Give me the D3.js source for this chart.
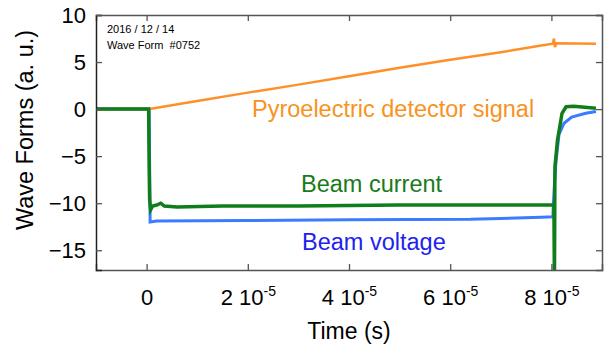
<!DOCTYPE html>
<html>
<head>
<meta charset="utf-8">
<script src="https://cdn.jsdelivr.net/npm/d3@7"></script>
<style>
  body { margin: 0; background: #fff; }
  text { font-family: Arial, "Liberation Sans", sans-serif; }
</style>
</head>
<body>
<script>
// time values in seconds, signals in arbitrary units
var voltageTime = [-1.0e-5, 0.05e-5, 0.07e-5, 0.2e-5, 2e-5, 4e-5, 6.4e-5, 7.8e-5, 8.03e-5, 8.04e-5, 8.06e-5, 8.09e-5, 8.15e-5, 8.25e-5, 8.4e-5, 8.68e-5, 8.88e-5];
var voltageVal  = [0.0, 0.0, -12.0, -11.9, -11.85, -11.75, -11.7, -11.5, -11.45, -10.0, -8.0, -5.6, -2.7, -1.5, -0.85, -0.45, -0.25];

var currentTime = [-1.0e-5, 0.04e-5, 0.05e-5, 0.06e-5, 0.08e-5, 0.12e-5, 0.2e-5, 0.28e-5, 0.35e-5, 0.6e-5, 1.5e-5, 3e-5, 5e-5, 7e-5, 8.03e-5, 8.05e-5, 8.06e-5, 8.07e-5, 8.12e-5, 8.21e-5, 8.29e-5, 8.44e-5, 8.88e-5];
var currentVal  = [0.0, 0.0, -6.0, -9.6, -10.7, -10.3, -10.2, -10.0, -10.3, -10.4, -10.3, -10.3, -10.2, -10.2, -10.2, -10.3, -19.0, -6.1, -3.3, -0.45, 0.25, 0.3, 0.1];

var pyroTime = [-1.0e-5, 0.06e-5, 1e-5, 2e-5, 3e-5, 4e-5, 5e-5, 6e-5, 7e-5, 7.8e-5, 8.03e-5, 8.05e-5, 8.07e-5, 8.1e-5, 8.88e-5];
var pyroVal  = [0.0, 0.0, 0.85, 1.75, 2.6, 3.5, 4.4, 5.25, 6.05, 6.75, 6.95, 7.5, 6.6, 7.0, 6.95];

var xTicks = [0, 2e-5, 4e-5, 6e-5, 8e-5];
var yTicks = [-15, -10, -5, 0, 5, 10];

var width = 605, height = 347;
var margin = {left: 96, right: 3, top: 15, bottom: 77};

var svg = d3.select("body").append("svg")
    .attr("width", width)
    .attr("height", height);

var x = d3.scaleLinear().domain([-1e-5, 9e-5]).range([margin.left, width - margin.right]);
var y = d3.scaleLinear().domain([-17.1, 10]).range([height - margin.bottom, margin.top]);

function toPoints(ts, vs) {
    return ts.map(function (t, i) { return [t, vs[i]]; });
}

svg.append("clipPath").attr("id", "plot")
  .append("rect")
    .attr("x", x.range()[0]).attr("y", y.range()[1])
    .attr("width", x.range()[1] - x.range()[0])
    .attr("height", y.range()[0] - y.range()[1]);

var line = d3.line()
    .x(function (d) { return x(d[0]); })
    .y(function (d) { return y(d[1]); });

var traces = svg.append("g").attr("clip-path", "url(#plot)");

// blue under, green on top
traces.append("path")
    .datum(toPoints(voltageTime, voltageVal))
    .attr("d", line).attr("fill", "none")
    .attr("stroke", "#3a7bff").attr("stroke-width", 3);

traces.append("path")
    .datum(toPoints(pyroTime, pyroVal))
    .attr("d", line).attr("fill", "none")
    .attr("stroke", "#ff9028").attr("stroke-width", 2.5);

traces.append("path")
    .datum(toPoints(currentTime, currentVal))
    .attr("d", line).attr("fill", "none")
    .attr("stroke", "#0f7d1a").attr("stroke-width", 3.5);

// axes, ticks pointing inward on all four sides
var axisColor = "#555";

function xFormat(d) {
    return d === 0 ? "0" : String(Math.round(d / 1e-5));
}

var bottom = svg.append("g")
    .attr("transform", "translate(0," + y.range()[0] + ")")
    .call(d3.axisBottom(x).tickValues(xTicks).tickSize(-6).tickPadding(14).tickFormat(""));
bottom.selectAll(".tick text").remove();
bottom.selectAll(".tick").append("text")
    .attr("y", 35)
    .attr("text-anchor", "middle")
    .attr("fill", "#000")
    .style("font-size", "22px")
    .each(function (d) {
        var t = d3.select(this);
        if (d === 0) { t.text("0"); return; }
        t.append("tspan").text(xFormat(d) + " 10");
        t.append("tspan").attr("dy", -9).style("font-size", "14px").text("-5");
    });

svg.append("g")
    .attr("transform", "translate(0," + y.range()[1] + ")")
    .call(d3.axisTop(x).tickValues(xTicks).tickSize(-6).tickFormat(""));

var left = svg.append("g")
    .attr("transform", "translate(" + x.range()[0] + ",0)")
    .call(d3.axisLeft(y).tickValues(yTicks).tickSize(-6).tickPadding(10));
left.selectAll("text")
    .attr("fill", "#000")
    .style("font-size", "22px");

svg.append("g")
    .attr("transform", "translate(" + x.range()[1] + ",0)")
    .call(d3.axisRight(y).tickValues(yTicks).tickSize(-6).tickFormat(""));

svg.selectAll(".domain").attr("stroke", axisColor).attr("stroke-width", 1.5);
svg.selectAll(".tick line").attr("stroke", axisColor).attr("stroke-width", 1.3);
left.select(".domain").attr("stroke", "#222");

// axis titles
svg.append("text")
    .attr("x", (x.range()[0] + x.range()[1]) / 2)
    .attr("y", 339)
    .attr("text-anchor", "middle")
    .style("font-size", "23px")
    .text("Time (s)");

svg.append("text")
    .attr("transform", "translate(33," + 130 + ") rotate(-90)")
    .attr("text-anchor", "middle")
    .style("font-size", "23.5px")
    .text("Wave Forms (a. u.)");

// run info
svg.append("text").attr("x", 107).attr("y", 33)
    .style("font-size", "11px").text("2016 / 12 / 14");
svg.append("text").attr("x", 107).attr("y", 49)
    .style("font-size", "11px").attr("xml:space", "preserve").text("Wave Form  #0752");

// trace labels
svg.append("text").attr("x", 252).attr("y", 117)
    .attr("fill", "#f7931e").style("font-size", "23.5px")
    .text("Pyroelectric detector signal");
svg.append("text").attr("x", 301).attr("y", 192)
    .attr("fill", "#1a7a1a").style("font-size", "23.5px")
    .text("Beam current");
svg.append("text").attr("x", 302).attr("y", 250)
    .attr("fill", "#2222ee").style("font-size", "23.5px")
    .text("Beam voltage");
</script>
</body>
</html>
